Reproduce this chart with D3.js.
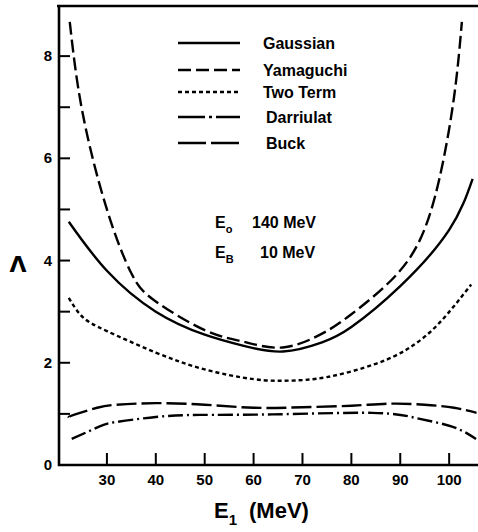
<!DOCTYPE html>
<html>
<head>
<meta charset="utf-8">
<script src="https://cdn.jsdelivr.net/npm/d3@7"></script>
<style>
  body { margin: 0; background: #fff; }
  svg { display: block; font-family: "Liberation Sans", Arial, sans-serif; font-weight: bold; }
  .curve { fill: none; stroke: #000; stroke-width: 2.4; stroke-linecap: butt; }
  .ax { stroke: #000; stroke-width: 2.6; fill: none; }
</style>
</head>
<body>
<svg id="chart" width="478" height="532"></svg>
<script>
// Λ versus E1 for E0 = 140 MeV, EB = 10 MeV

const xTicks = [30, 40, 50, 60, 70, 80, 90, 100];
const yTicks = [0, 1, 2, 3, 4, 5, 6, 7, 8];
const yLabels = [0, 2, 4, 6, 8];

const gaussian = [
  [22.2, 4.76], [30, 3.8], [40, 3.0], [50, 2.55], [58, 2.33], [66, 2.22],
  [74, 2.4], [80, 2.7], [90, 3.5], [100, 4.6], [104.8, 5.6]
];
const yamaguchi = [
  [22.4, 8.67], [25, 6.9], [30, 5.0], [35, 3.75], [40, 3.2], [50, 2.64], [58, 2.41],
  [66, 2.3], [74, 2.57], [80, 2.95], [88, 3.6], [94, 4.4], [98, 5.6], [101, 7.2], [102.6, 8.67]
];
const twoTerm = [
  [22.2, 3.27], [25, 2.9], [30, 2.62], [40, 2.2], [50, 1.87], [60, 1.68], [67, 1.65],
  [75, 1.72], [85, 1.98], [92, 2.3], [98, 2.78], [104.5, 3.53]
];
const darriulat = [
  [22.8, 0.51], [28.4, 0.75], [31.8, 0.84], [40, 0.94], [49, 0.98], [63.8, 0.99],
  [84.2, 1.02], [93.2, 0.92], [100.6, 0.75], [105.5, 0.51]
];
const buck = [
  [22.2, 0.93], [23.2, 0.98], [28, 1.12], [32, 1.18], [40, 1.21], [50, 1.18],
  [60, 1.12], [70, 1.13], [80, 1.16], [88, 1.2], [95, 1.18], [101, 1.12], [105.6, 1.02]
];

const series = [
  { name: "Gaussian", data: gaussian, dash: null, legendDash: null },
  { name: "Yamaguchi", data: yamaguchi, dash: "13,5", legendDash: "13,5" },
  { name: "Two Term", data: twoTerm, dash: "4,3", legendDash: "4,3" },
  { name: "Darriulat", data: darriulat, dash: "15,4,2,4", legendDash: "27,4,3,4" },
  { name: "Buck", data: buck, dash: "20,5", legendDash: "28,5" }
];

const W = 478, H = 532;
const margin = { top: 5, right: 0, bottom: 67, left: 59 };

const svg = d3.select("#chart");

const x = d3.scaleLinear().domain([20.2, 105.9]).range([margin.left, W - margin.right]);
const y = d3.scaleLinear().domain([0, 9]).range([H - margin.bottom, margin.top]);

// frame: left axis, bottom axis, top border
svg.append("path").attr("class", "ax")
  .attr("d", `M${x.range()[0]},${y(9)}V${y(0)}H${x.range()[1]}`);
svg.append("line").attr("class", "ax")
  .attr("x1", x.range()[0] - 2).attr("x2", x.range()[1])
  .attr("y1", y(9) + 1).attr("y2", y(9) + 1);

// y ticks (inward)
svg.append("g").selectAll("line").data(yTicks.filter(d => d > 0)).join("line")
  .attr("x1", x.range()[0]).attr("x2", x.range()[0] + 11)
  .attr("y1", d => y(d)).attr("y2", d => y(d))
  .attr("stroke", "#000").attr("stroke-width", 2);
svg.append("g").selectAll("text").data(yLabels).join("text")
  .attr("x", x.range()[0] - 7).attr("y", d => y(d) + 5)
  .attr("text-anchor", "end").attr("font-size", 15)
  .text(d => d);

// x ticks (inward)
svg.append("g").selectAll("line").data(xTicks).join("line")
  .attr("x1", d => x(d)).attr("x2", d => x(d))
  .attr("y1", y(0)).attr("y2", y(0) - 12)
  .attr("stroke", "#000").attr("stroke-width", 2);
svg.append("g").selectAll("text").data(xTicks).join("text")
  .attr("x", d => x(d)).attr("y", y(0) + 20)
  .attr("text-anchor", "middle").attr("font-size", 15)
  .text(d => d);

// axis titles
svg.append("text").attr("x", 18).attr("y", 272).attr("text-anchor", "middle")
  .attr("font-size", 22).attr("font-family", "DejaVu Sans").text("Λ");
const xt = svg.append("text").attr("x", 214).attr("y", 518).attr("font-size", 22);
xt.append("tspan").text("E");
xt.append("tspan").attr("font-size", 15).attr("dy", 7).text("1");
xt.append("tspan").attr("dy", -7).attr("dx", 12).text("(MeV)");

// curves
const line = d3.line().x(d => x(d[0])).y(d => y(d[1])).curve(d3.curveNatural);
svg.append("g").selectAll("path").data(series).join("path")
  .attr("class", "curve")
  .attr("stroke-dasharray", d => d.dash)
  .attr("d", d => line(d.data));

// legend
const leg = svg.append("g").selectAll("g").data(series).join("g")
  .attr("transform", (d, i) => `translate(178,${[43, 70, 92, 117, 143][i]})`);
leg.append("line").attr("class", "curve")
  .attr("x1", 0).attr("x2", 62).attr("y1", 0).attr("y2", 0)
  .attr("stroke-dasharray", d => d.legendDash);
leg.append("text")
  .attr("x", (d, i) => i >= 3 ? 88 : 85).attr("y", 6)
  .attr("font-size", 16).text(d => d.name);

// annotation
const ann = [["o", "140 MeV", 228, 252], ["B", "10 MeV", 258, 260]];
ann.forEach(([sub, txt, yy, tx]) => {
  const t = svg.append("text").attr("x", 215).attr("y", yy).attr("font-size", 16);
  t.append("tspan").text("E");
  t.append("tspan").attr("font-size", 11).attr("dy", 5).text(sub);
  svg.append("text").attr("x", tx).attr("y", yy).attr("font-size", 16).text(txt);
});
</script>
</body>
</html>
